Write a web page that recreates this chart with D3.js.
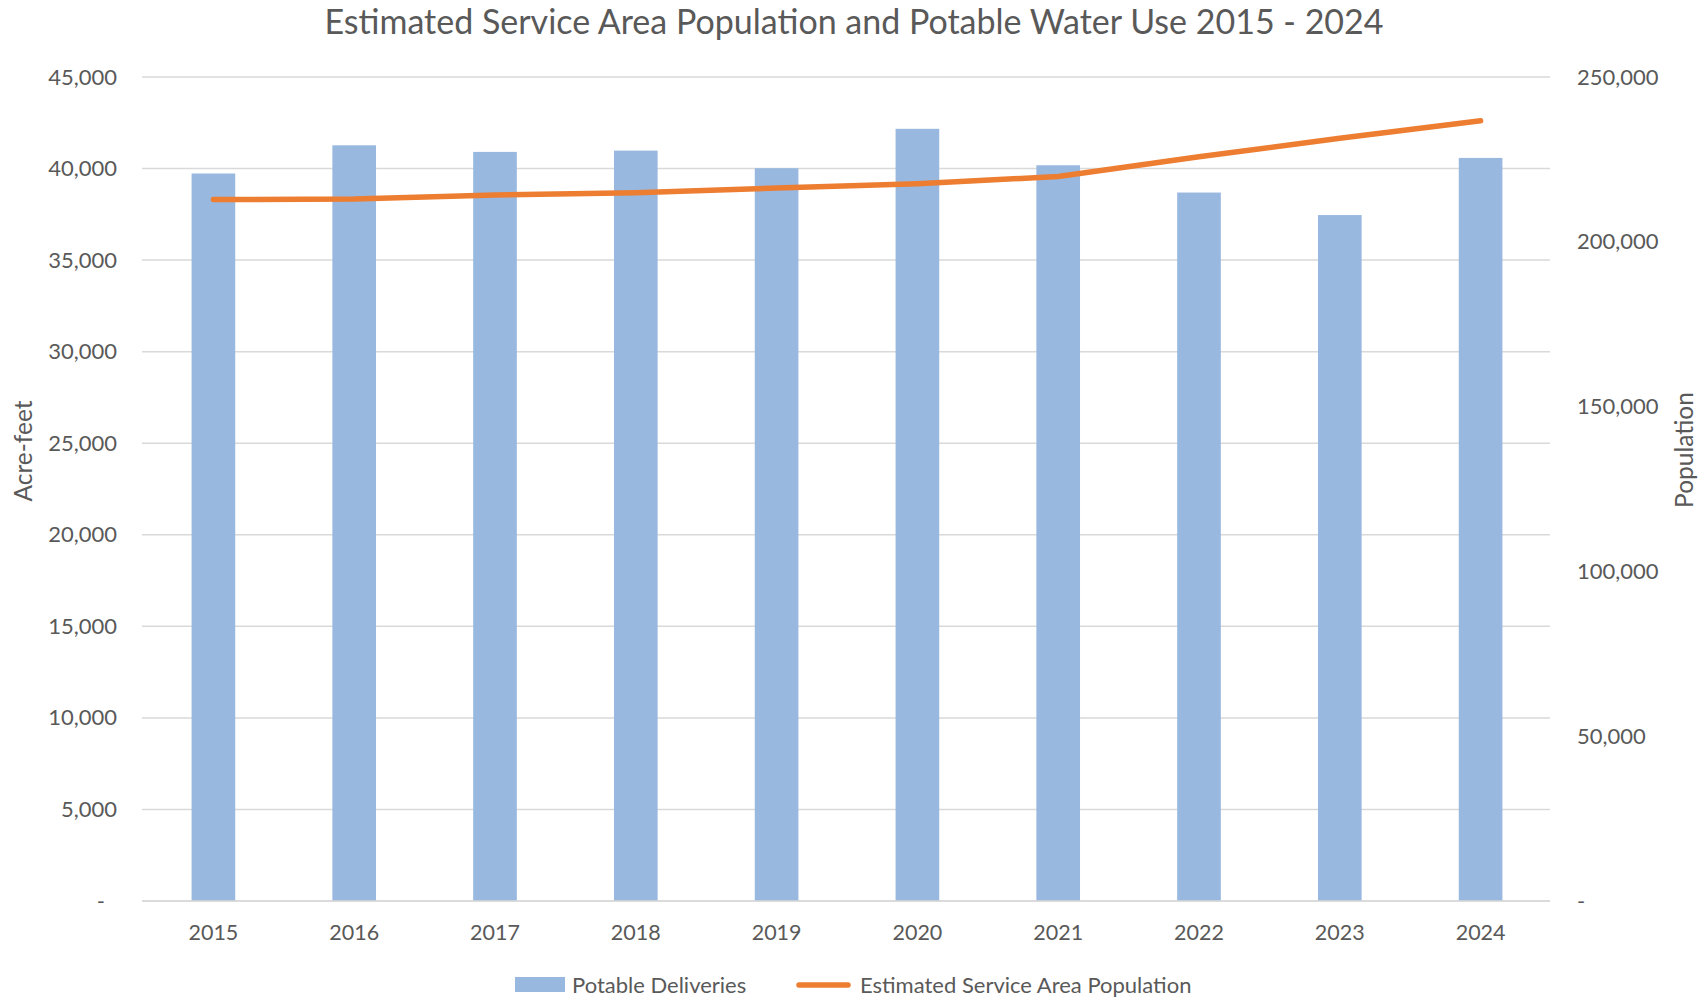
<!DOCTYPE html>
<html><head><meta charset="utf-8">
<script src="https://cdn.jsdelivr.net/npm/d3@7"></script>
<style>
html,body{margin:0;padding:0;background:#fff;}
svg text{font-family:Lato,"Open Sans",sans-serif;fill:#595959;}
</style></head>
<body><svg id="chart" width="1708" height="997"></svg>
<script>
const years = ["2015","2016","2017","2018","2019","2020","2021","2022","2023","2024"];
const potableDeliveries = [39730, 41270, 40910, 40980, 40020, 42170, 40180, 38690, 37460, 40580];
const population = [212800, 213000, 214200, 214850, 216300, 217600, 219800, 225800, 231400, 236700];
const leftTicks = [0, 5000, 10000, 15000, 20000, 25000, 30000, 35000, 40000, 45000];
const rightTicks = [0, 50000, 100000, 150000, 200000, 250000];
const titleText = "Estimated Service Area Population and Potable Water Use 2015 - 2024";
const leftTitle = "Acre-feet";
const rightTitle = "Population";
const seriesNames = ["Potable Deliveries", "Estimated Service Area Population"];

const svg = d3.select("#chart");
const L = 142, R = 1550, T = 77, B = 901;
const fmt = d => d === 0 ? "-" : d3.format(",")(d);

const x = d3.scaleBand().domain(years).range([L + 1, R + 1]).paddingInner(0.69).paddingOuter(0.345);
const yL = d3.scaleLinear().domain([0, 45000]).range([B, T]);
const yR = d3.scaleLinear().domain([0, 250000]).range([B, T]);

// gridlines
svg.append("g").selectAll("line").data(leftTicks).join("line")
  .attr("x1", L).attr("x2", R)
  .attr("y1", d => yL(d)).attr("y2", d => yL(d))
  .attr("stroke", "#d9d9d9").attr("stroke-width", 1.5);

// left axis
const gl = svg.append("g").attr("transform", `translate(${L},0)`)
  .call(d3.axisLeft(yL).tickValues(leftTicks).tickFormat(fmt).tickSize(0).tickPadding(25));
gl.select(".domain").remove();
gl.selectAll("text").style("font-size", "22px").attr("fill", "#595959")
  .attr("dx", d => d === 0 ? -12 : 0);

// right axis
const gr = svg.append("g").attr("transform", `translate(${R},0)`)
  .call(d3.axisRight(yR).tickValues(rightTicks).tickFormat(fmt).tickSize(0).tickPadding(27));
gr.select(".domain").remove();
gr.selectAll("text").style("font-size", "22px").attr("fill", "#595959");

// bars
svg.append("g").selectAll("rect").data(years).join("rect")
  .attr("x", d => x(d)).attr("width", x.bandwidth())
  .attr("y", (d, i) => yL(potableDeliveries[i]))
  .attr("height", (d, i) => B - yL(potableDeliveries[i]))
  .attr("fill", "#98b8df");

// baseline
svg.append("line").attr("x1", L).attr("x2", R).attr("y1", B).attr("y2", B)
  .attr("stroke", "#d9d9d9").attr("stroke-width", 1.5);

// x axis
const gx = svg.append("g").attr("transform", `translate(0,${B})`)
  .call(d3.axisBottom(x).tickSize(0).tickPadding(24));
gx.select(".domain").remove();
gx.selectAll("text").style("font-size", "21.5px").attr("fill", "#595959");

// line
const line = d3.line().x((d, i) => x(years[i]) + x.bandwidth() / 2).y(d => yR(d));
svg.append("path").datum(population).attr("d", line)
  .attr("fill", "none").attr("stroke", "#ed7d31").attr("stroke-width", 5.5)
  .attr("stroke-linecap", "round").attr("stroke-linejoin", "round");

// title
svg.append("text").attr("x", 854).attr("y", 34).attr("text-anchor", "middle")
  .style("font-size", "34px").text(titleText);

// axis titles
svg.append("text").attr("transform", "translate(32,451) rotate(-90)").attr("text-anchor", "middle")
  .style("font-size", "24.5px").text(leftTitle);
svg.append("text").attr("transform", "translate(1693,450) rotate(-90)").attr("text-anchor", "middle")
  .style("font-size", "24.5px").text(rightTitle);

// legend
const lg = svg.append("g");
lg.append("rect").attr("x", 515).attr("y", 977).attr("width", 50).attr("height", 15).attr("fill", "#98b8df");
lg.append("text").attr("x", 572).attr("y", 993).style("font-size", "22px").text(seriesNames[0]);
lg.append("line").attr("x1", 799).attr("x2", 848).attr("y1", 985).attr("y2", 985)
  .attr("stroke", "#ed7d31").attr("stroke-width", 5.5).attr("stroke-linecap", "round");
lg.append("text").attr("x", 860).attr("y", 993).style("font-size", "22px").text(seriesNames[1]);
</script></body></html>
